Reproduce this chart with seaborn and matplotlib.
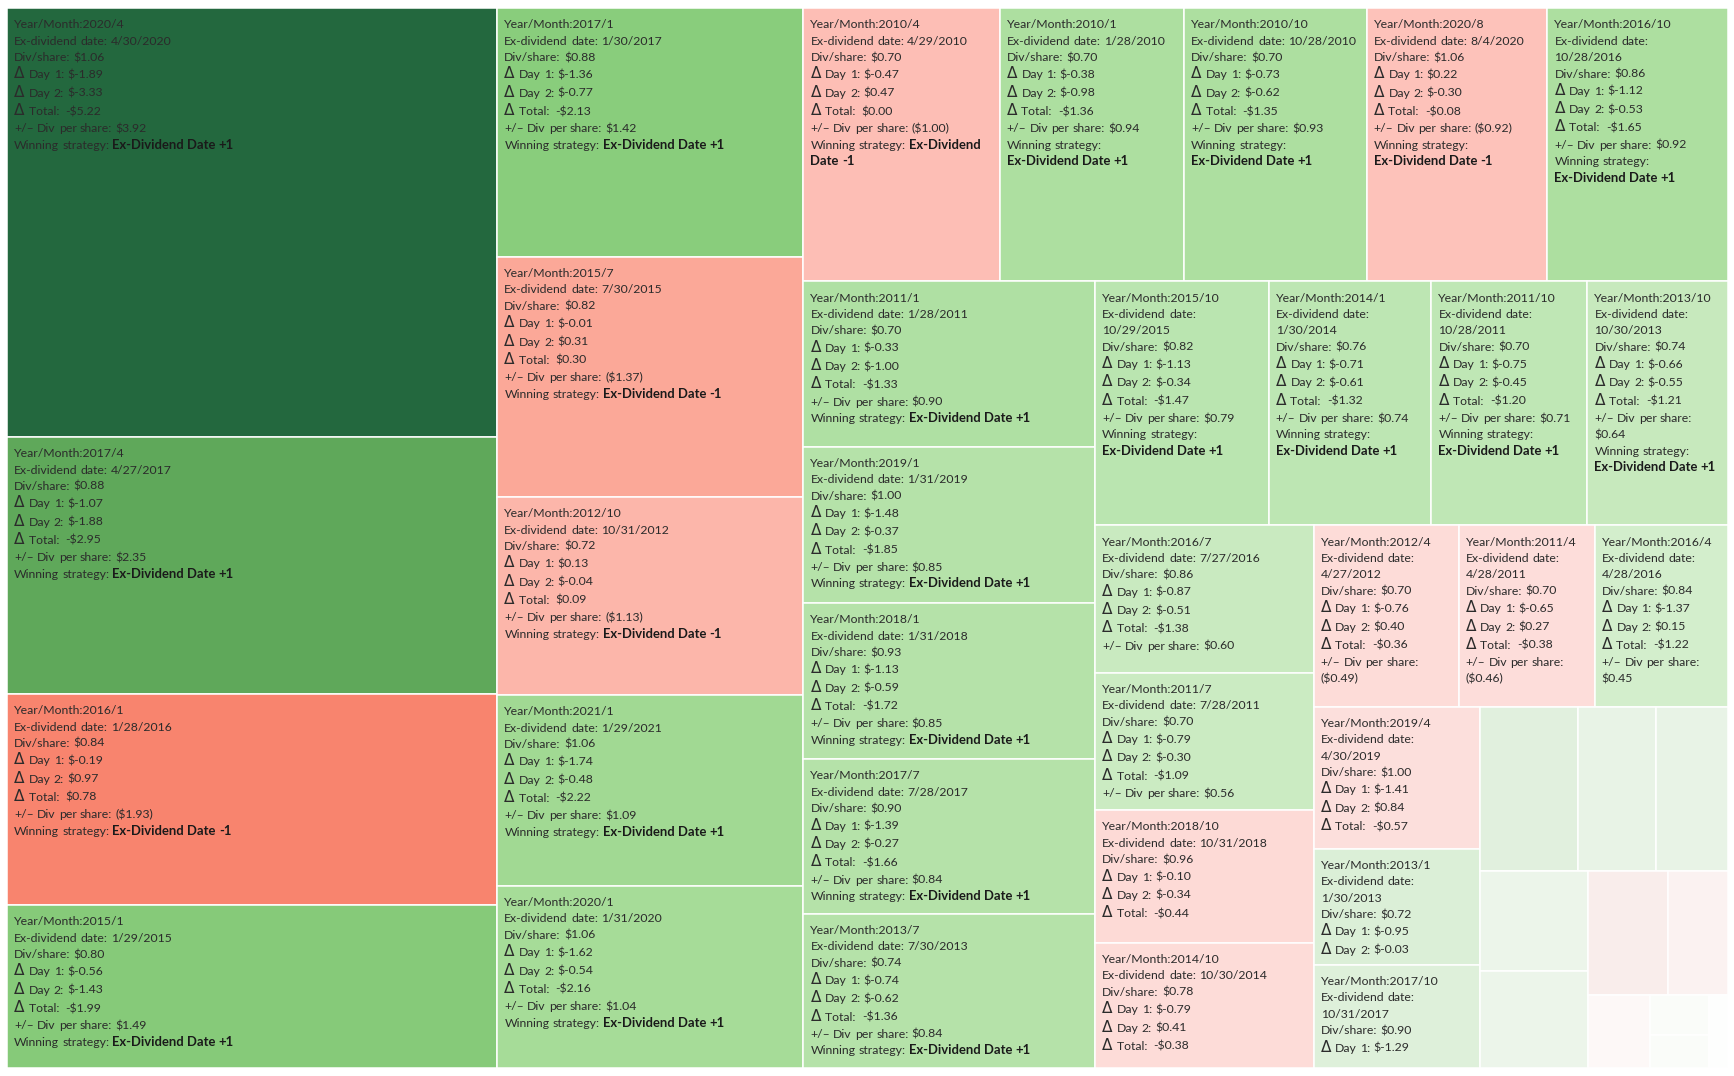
import math
import numpy as np
import pandas as pd
import matplotlib
matplotlib.use("Agg")
import matplotlib.pyplot as plt
import seaborn as sns
from matplotlib.colors import LinearSegmentedColormap
from matplotlib.font_manager import FontProperties
from matplotlib.patches import Rectangle

# ---- data ----
year_month = ["2020/4", "2017/4", "2016/1", "2015/1", "2017/1", "2015/7", "2012/10",
              "2021/1", "2020/1", "2010/4", "2010/1", "2010/10", "2020/8", "2016/10",
              "2011/1", "2019/1", "2018/1", "2017/7", "2013/7", "2015/10", "2014/1",
              "2011/10", "2013/10", "2016/7", "2011/7", "2018/10", "2014/10", "2012/4",
              "2011/4", "2016/4", "2019/4", "2013/1", "2017/10"]
ex_date = ["4/30/2020", "4/27/2017", "1/28/2016", "1/29/2015", "1/30/2017", "7/30/2015",
           "10/31/2012", "1/29/2021", "1/31/2020", "4/29/2010", "1/28/2010", "10/28/2010",
           "8/4/2020", "10/28/2016", "1/28/2011", "1/31/2019", "1/31/2018", "7/28/2017",
           "7/30/2013", "10/29/2015", "1/30/2014", "10/28/2011", "10/30/2013", "7/27/2016",
           "7/28/2011", "10/31/2018", "10/30/2014", "4/27/2012", "4/28/2011", "4/28/2016",
           "4/30/2019", "1/30/2013", "10/31/2017"]
div_share = [1.06, 0.88, 0.84, 0.80, 0.88, 0.82, 0.72, 1.06, 1.06, 0.70, 0.70, 0.70, 1.06,
             0.86, 0.70, 1.00, 0.93, 0.90, 0.74, 0.82, 0.76, 0.70, 0.74, 0.86, 0.70, 0.96,
             0.78, 0.70, 0.70, 0.84, 1.00, 0.72, 0.90]
day1 = [-1.89, -1.07, -0.19, -0.56, -1.36, -0.01, 0.13, -1.74, -1.62, -0.47, -0.38, -0.73,
        0.22, -1.12, -0.33, -1.48, -1.13, -1.39, -0.74, -1.13, -0.71, -0.75, -0.66, -0.87,
        -0.79, -0.10, -0.79, -0.76, -0.65, -1.37, -1.41, -0.95, -1.29]
day2 = [-3.33, -1.88, 0.97, -1.43, -0.77, 0.31, -0.04, -0.48, -0.54, 0.47, -0.98, -0.62,
        -0.30, -0.53, -1.00, -0.37, -0.59, -0.27, -0.62, -0.34, -0.61, -0.45, -0.55, -0.51,
        -0.30, -0.34, 0.41, 0.40, 0.27, 0.15, 0.84, -0.03, None]
total = [-5.22, -2.95, 0.78, -1.99, -2.13, 0.30, 0.09, -2.22, -2.16, 0.00, -1.36, -1.35,
         -0.08, -1.65, -1.33, -1.85, -1.72, -1.66, -1.36, -1.47, -1.32, -1.20, -1.21, -1.38,
         -1.09, -0.44, -0.38, -0.36, -0.38, -1.22, -0.57, -0.98, None]
# +/- Div per share (sets tile size and colour); the last few are estimated from tile area
plus_minus = [3.92, 2.35, -1.93, 1.49, 1.42, -1.37, -1.13, 1.09, 1.04, -1.00, 0.94, 0.93,
              -0.92, 0.92, 0.90, 0.85, 0.85, 0.84, 0.84, 0.79, 0.74, 0.71, 0.64, 0.60, 0.56,
              -0.54, -0.51, -0.49, -0.46, 0.45, -0.44, 0.36, 0.32]
# unlabelled slivers in the bottom-right corner (estimated from area and colour)
small_plus_minus = [0.30, 0.24, 0.22, 0.20, 0.195, -0.185, -0.139, -0.085, 0.045, 0.036, 0.026]

df = pd.DataFrame({"ym": year_month, "date": ex_date, "div": div_share, "d1": day1,
                   "d2": day2, "tot": total, "pm": plus_minus})
small = pd.DataFrame({"pm": small_plus_minus})
df = pd.concat([df, small], ignore_index=True)
df["size"] = df["pm"].abs()
df = df.sort_values("size", ascending=False, kind="stable").reset_index(drop=True)

# ---- figure / fonts ----
sns.set_theme(style="white")
plt.rcParams["font.family"] = ["Lato", "DejaVu Sans"]

W, H = 1734, 1076
fig = plt.figure(figsize=(W / 100, H / 100), dpi=100)
ax = fig.add_axes([0, 0, 1, 1])
ax.set_xlim(0, W)
ax.set_ylim(H, 0)
ax.axis("off")
renderer = fig.canvas.get_renderer()

# red-green diverging palette (Tableau-like)
anchors = [(-3.92, "#e04b35"), (-1.93, "#f8856f"), (-1.37, "#fba898"), (-1.13, "#fcb5a9"),
           (-0.92, "#fdc3bc"), (-0.5, "#fddcd9"), (-0.185, "#f9eeec"), (0.0, "#ffffff"),
           (0.045, "#fafcf9"), (0.2, "#ecf5ea"), (0.3, "#e0f0dd"), (0.45, "#d3eecc"),
           (0.6, "#c9eac0"), (0.75, "#bde6b3"), (0.9, "#b0e0a4"), (1.05, "#a4db96"),
           (1.45, "#88cc7b"), (2.35, "#5fa85a"), (3.92, "#23683e")]
vmax = 3.92
cmap = LinearSegmentedColormap.from_list(
    "rg", [((v + vmax) / (2 * vmax), c) for v, c in anchors])


def squarify_tableau(sizes, x, y, w, h, target=1.62):
    areas = np.asarray(sizes, float)
    areas = areas * (w * h / areas.sum())
    rects = []
    i, n = 0, len(areas)
    while i < n:
        vertical = w >= h
        side = h if vertical else w

        def cost(row):
            t = sum(row) / side
            return max(abs(math.log(t * t / a / target)) for a in row)

        row = [areas[i]]
        j = i + 1
        while j < n and cost(row + [areas[j]]) <= cost(row):
            row.append(areas[j])
            j += 1
        t = sum(row) / side
        pos = y if vertical else x
        for a in row:
            l = a / t
            rects.append((x, pos, t, l) if vertical else (pos, y, l, t))
            pos += l
        if vertical:
            x += t
            w -= t
        else:
            y += t
            h -= t
        i = j
    return rects


rects = squarify_tableau(df["size"], 7, 8, 1721, 1060)

# fonts for labels, sized so that text widths match the Tableau labels
fam = ["Lato", "DejaVu Sans"]
w9 = renderer.get_text_width_height_descent(
    "Ex-dividend date: 4/30/2020", FontProperties(family=fam, size=9), ismath=False)[0]
wb9 = renderer.get_text_width_height_descent(
    "Ex-Dividend Date +1", FontProperties(family=fam, size=9, weight="bold"), ismath=False)[0]
fs = 9 * 159 / w9
fsb = 9 * 122 / wb9
props = {
    "n": FontProperties(family=fam, size=fs),
    "b": FontProperties(family=fam, size=fsb, weight="bold"),
    "d": FontProperties(family="DejaVu Sans", size=fs * 1.25),
}
colors = {"n": "#2b2b2b", "b": "#1a1a1a", "d": "#2b2b2b"}
space_w = (renderer.get_text_width_height_descent("a a", props["n"], ismath=False)[0]
           - renderer.get_text_width_height_descent("aa", props["n"], ismath=False)[0])


def tw(s, k):
    return renderer.get_text_width_height_descent(s, props[k], ismath=False)[0]


def m_day(v):
    return f"${v:.2f}" if v >= 0 else f"$-{-v:.2f}"


def m_tot(v):
    return f"${v:.2f}" if v >= 0 else f"-${-v:.2f}"


def m_pm(v):
    return f"${v:.2f}" if v >= 0 else f"(${-v:.2f})"


def label_lines(r):
    out = [[("Year/Month:" + r.ym, "n")],
           [("Ex-dividend", "n"), ("date:", "n"), (r.date, "n")],
           [("Div/share:", "n"), (m_day(r.div), "n")]]
    for name, v in (("1:", r.d1), ("2:", r.d2)):
        if v is None or pd.isna(v):
            return out
        out.append([("Δ", "d"), ("Day", "n"), (name, "n"), (m_day(v), "n")])
    if r.tot is None or pd.isna(r.tot):
        return out
    out.append([("Δ", "d"), ("Total: ", "n"), (m_tot(r.tot), "n")])
    out.append([("+/–", "n"), ("Div", "n"), ("per", "n"), ("share:", "n"), (m_pm(r.pm), "n")])
    strat = "+1" if r.pm > 0 else "-1"
    out.append([("Winning", "n"), ("strategy:", "n"), ("Ex-Dividend", "b"), ("Date", "b"),
                (strat, "b")])
    return out


for (x, y, w, h), r in zip(rects, df.itertuples()):
    ax.add_patch(Rectangle((x, y), w, h, facecolor=cmap((r.pm + vmax) / (2 * vmax)),
                           edgecolor="white", linewidth=1.1))
    if not isinstance(r.ym, str):
        continue
    avail = w - 17
    lines = label_lines(r)
    if any(tw(t, k) > avail for ln in lines for t, k in ln):
        continue
    # word wrap
    wrapped = []
    for ln in lines:
        cur, cw = [], 0
        for t, k in ln:
            ww = tw(t, k)
            if cur and cw + space_w + ww > avail:
                wrapped.append(cur)
                cur, cw = [], 0
            cw = ww if not cur else cw + space_w + ww
            cur.append((t, k, ww))
        wrapped.append(cur)
    base_y = y + 20.3
    prev_h = None
    for ln in wrapped:
        lh = 18.3 if any(k == "d" for _, k, _ in ln) else 16.4
        if prev_h is not None:
            base_y += (prev_h + lh) / 2
        prev_h = lh
        if base_y + 9.5 > y + h:
            break
        cx = x + 7
        for t, k, ww in ln:
            ax.text(cx, base_y, t, fontproperties=props[k], color=colors[k],
                    ha="left", va="baseline")
            cx += ww + space_w + (1 if k == "d" else 0)

fig.savefig("out.png", dpi=100, facecolor="white")
